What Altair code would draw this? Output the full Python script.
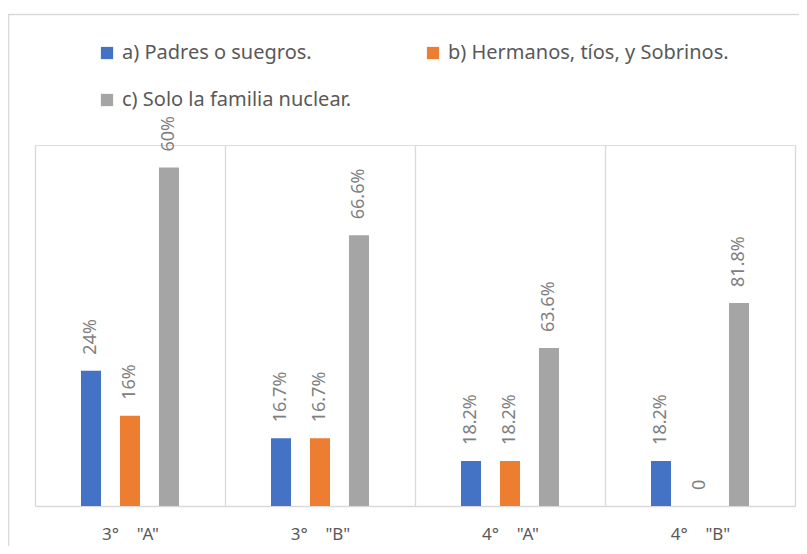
import altair as alt
import pandas as pd

categories = ['3°    "A"', '3°    "B"', '4°    "A"', '4°    "B"']
series = ["a) Padres o suegros.", "b) Hermanos, tíos, y Sobrinos.", "c) Solo la familia nuclear."]
colors = ["#4472C4", "#ED7D31", "#A5A5A5"]

padres = [6, 3, 2, 2]
hermanos = [4, 3, 2, 0]
nuclear = [15, 12, 7, 9]

padres_lbl = ["24%", "16.7%", "18.2%", "18.2%"]
hermanos_lbl = ["16%", "16.7%", "18.2%", "0"]
nuclear_lbl = ["60%", "66.6%", "63.6%", "81.8%"]

rows = []
for s, vals, lbls in zip(series, [padres, hermanos, nuclear], [padres_lbl, hermanos_lbl, nuclear_lbl]):
    for c, v, l in zip(categories, vals, lbls):
        rows.append({"grupo": c, "serie": s, "valor": v, "etiqueta": l})
df = pd.DataFrame(rows)

FONT = "Noto Sans"
NBSP = "\u00a0"

x_enc = alt.X(
    "grupo:N",
    sort=categories,
    scale=alt.Scale(paddingInner=0, paddingOuter=0),
    axis=alt.Axis(
        title=None, labelAngle=0, tickBand="extent", grid=True,
        gridColor="#d9d9d9", gridWidth=1.3, domainColor="#d9d9d9", domainWidth=1.3,
        ticks=False, tickSize=0, labelPadding=20, labelFont=FONT, labelFontSize=17,
        labelColor="#595959",
        labelExpr="replace(datum.label, regexp(' ', 'g'), '" + NBSP + "')",
    ),
)
xoff = alt.XOffset(
    "serie:N", sort=series,
    scale=alt.Scale(range=[46, 144], paddingInner=0.487, paddingOuter=0),
)
y_enc = alt.Y("valor:Q", scale=alt.Scale(domain=[0, 16]), axis=None)

bars = alt.Chart(df).mark_bar().encode(
    x=x_enc,
    xOffset=xoff,
    y=y_enc,
    color=alt.Color(
        "serie:N",
        sort=series,
        scale=alt.Scale(domain=series, range=colors),
        legend=alt.Legend(
            title=None, orient="none", legendX=62, legendY=-102,
            direction="horizontal", columns=2, columnPadding=71, rowPadding=27,
            symbolType="square", symbolSize=150, symbolStrokeWidth=0,
            labelFont=FONT, labelFontSize=20, labelColor="#595959",
            labelOffset=5, padding=0, labelLimit=500,
        ),
    ),
)

labels = alt.Chart(df).mark_text(
    angle=270, align="left", baseline="middle", dx=16,
    font=FONT, fontSize=18, color="#7f7f7f",
).encode(
    x=x_enc,
    xOffset=xoff,
    y=y_enc,
    text="etiqueta:N",
)

frame_df = pd.DataFrame({"k": [0]})
left_edge = alt.Chart(frame_df).mark_rule(color="#d9d9d9", strokeWidth=1.5).encode(
    x=alt.value(-26.5), y=alt.value(-130.5), y2=alt.value(430)
)
top_edge = alt.Chart(frame_df).mark_rule(color="#d9d9d9", strokeWidth=1.5).encode(
    x=alt.value(-27), x2=alt.value(800), y=alt.value(-130.5)
)

chart = alt.layer(bars, labels, left_edge, top_edge).properties(
    width=760, height=361,
    padding={"left": 27, "top": 137, "right": 4, "bottom": 40},
    autosize=alt.AutoSizeParams(type="none"),
).configure_view(stroke=None).configure(background="white")

chart.save("out.html", embed_options={"renderer": "svg", "actions": False})
